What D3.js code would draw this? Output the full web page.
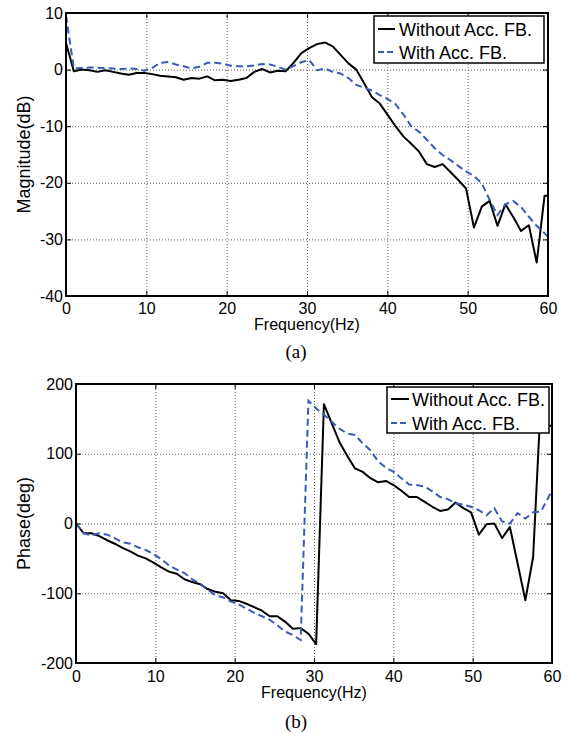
<!DOCTYPE html>
<html>
<head>
<meta charset="utf-8">
<script src="https://cdn.jsdelivr.net/npm/d3@7/dist/d3.min.js"></script>
<style>
  body { margin: 0; background: #ffffff; }
  svg text { font-family: "Liberation Sans", Arial, sans-serif; fill: #000; }
  svg text.caption { font-family: "Liberation Serif", "Times New Roman", serif; }
</style>
</head>
<body>
<svg id="chart" width="568" height="734"></svg>
<script>

/*****************
***** DATA *****
*****************/

// frequency bins (Hz), about 0.977 Hz apart
const freqHz = [0, 0.98, 1.95, 2.93, 3.91, 4.88, 5.86, 6.84, 7.81, 8.79,
    9.77, 10.74, 11.72, 12.70, 13.67, 14.65, 15.63, 16.60, 17.58, 18.55,
    19.53, 20.51, 21.48, 22.46, 23.44, 24.41, 25.39, 26.37, 27.34, 28.32,
    29.30, 30.27, 31.25, 32.23, 33.20, 34.18, 35.16, 36.13, 37.11, 38.09,
    39.06, 40.04, 41.02, 41.99, 42.97, 43.95, 44.92, 45.90, 46.88, 47.85,
    48.83, 49.80, 50.78, 51.76, 52.73, 53.71, 54.69, 55.66, 56.64, 57.62,
    58.59, 59.57, 60.55];

// (a) magnitude, dB
const magWithout = [4.7, -0.3, 0, -0.1, -0.4, -0.1, -0.4, -0.7, -0.9, -0.6,
    -0.6, -0.8, -1.1, -1.2, -1.35, -1.8, -1.5, -1.6, -1.2, -1.9,
    -1.8, -2.0, -1.8, -1.5, -0.4, 0.1, -0.5, -0.2, -0.3, 1.2,
    2.9, 3.8, 4.5, 4.8, 4.1, 2.6, 1.1, 0, -2.4, -4.9,
    -6.0, -8.0, -10.0, -11.8, -13.1, -14.5, -16.7, -17.2, -16.7, -18.1,
    -19.5, -21.0, -27.9, -24.2, -23.2, -27.6, -23.8, -26.0, -28.5, -27.5,
    -34.1, -22.3, -22.3];

const magWith = [9.5, 0.2, 0.3, 0.35, 0.35, 0.3, 0.2, 0.1, 0.2, 0.1,
    -0.2, 0.3, 1.2, 1.35, 0.9, 0.6, 0.2, 0.5, 1.2, 1.2,
    1.05, 0.7, 0.6, 0.6, 0.75, 1.0, 0.9, 0.5, 0, 0.6,
    1.3, 1.7, -0.1, 0.2, -0.4, -0.7, -1.5, -2.7, -3.2, -3.7,
    -4.5, -5.2, -6.1, -7.9, -10.0, -11.0, -12.4, -13.9, -15.1, -16.0,
    -17.0, -18.0, -18.8, -20.1, -23.0, -25.7, -23.8, -23.2, -24.3, -26.0,
    -27.6, -28.9, -30.4];

// (b) phase, deg
const phaseWithout = [0, -14, -14, -18, -24, -29, -35, -40, -46, -50,
    -56, -63, -69, -72, -80, -84, -87, -94, -98, -100,
    -110, -111, -115, -120, -125, -133, -133, -141, -151, -150,
    -158, -173, 171, 144, 117, 97, 79, 74, 65, 59,
    61, 55, 47, 38, 38, 31, 24, 18, 20, 30,
    22, 16, -16, -1, 0, -21, -5, -57, -110, -48,
    175, 140, 140];

const phaseWith = [0, -14, -17, -14, -16, -21, -27, -29, -34, -38,
    -44, -51, -60, -66, -71, -80, -86, -95, -103, -106,
    -112, -116, -122, -128, -133, -138, -146, -155, -160, -167,
    176, 165, 156, 146, 136, 129, 127, 115, 105, 89,
    80, 74, 65, 56, 55, 53, 46, 38, 35, 29,
    27, 24, 19, 12, 22, 3, 0, 15, 7, 16,
    17, 38, 58];

const xTicks = [0, 10, 20, 30, 40, 50, 60];
const magTicks = [-40, -30, -20, -10, 0, 10];
const phaseTicks = [-200, -100, 0, 100, 200];
const legendLabels = ["Without Acc. FB.", "With Acc. FB."];

/**********************
***** BASIC SETUP *****
**********************/

const BLUE = "#3a5cb4";
const GRID = "#606060";
const TICK_LEN = 5;

// plain hyphen minus, like the original plot
const fmt = d => String(d);

const svg = d3.select("#chart");

svg.append("rect")
    .attr("width", 568)
    .attr("height", 734)
    .attr("fill", "#ffffff");

const panels = [
    {
        id: "a", left: 66, top: 13, right: 548, bottom: 296,
        yDomain: [-40, 10], yTicks: magTicks, yTitle: "Magnitude(dB)",
        series: [magWithout, magWith],
        legend: {x: 374, y: 16, w: 170, h: 47, rows: [13, 36], lx0: 4, lx1: 21, tx: 25},
        xLabelPad: 7, xTitleY: 330, caption: "(a)", captionY: 358
    },
    {
        id: "b", left: 76, top: 384, right: 552, bottom: 663,
        yDomain: [-200, 200], yTicks: phaseTicks, yTitle: "Phase(deg)",
        series: [phaseWithout, phaseWith],
        legend: {x: 387, y: 387, w: 162, h: 46, rows: [12, 36], lx0: 4, lx1: 22, tx: 25},
        xLabelPad: 8, xTitleY: 698, caption: "(b)", captionY: 728
    }
];

panels.forEach(drawPanel);

function drawPanel(p) {

    const w = p.right - p.left;
    const h = p.bottom - p.top;

    const x = d3.scaleLinear().domain([0, 60]).range([0, w]);
    const y = d3.scaleLinear().domain(p.yDomain).range([h, 0]);

    const g = svg.append("g")
        .attr("id", "panel-" + p.id)
        .attr("transform", `translate(${p.left}, ${p.top})`);

    /*****************
    ***** GRID *****
    *****************/

    const inner = xTicks.slice(1, -1);
    const innerY = p.yTicks.slice(1, -1);

    g.append("g")
        .attr("class", "grid")
        .attr("transform", `translate(0, ${h})`)
        .call(d3.axisBottom(x).tickValues(inner).tickSize(-h).tickFormat(""))
        .call(a => a.select(".domain").remove());

    g.append("g")
        .attr("class", "grid")
        .call(d3.axisLeft(y).tickValues(innerY).tickSize(-w).tickFormat(""))
        .call(a => a.select(".domain").remove());

    g.selectAll(".grid line")
        .attr("stroke", GRID)
        .attr("stroke-width", 1)
        .attr("stroke-dasharray", "1,2");

    /***********************
    ***** CURVES *****
    ***********************/

    g.append("clipPath")
        .attr("id", "clip-" + p.id)
        .append("rect")
        .attr("width", w)
        .attr("height", h);

    const line = d3.line()
        .x((d, i) => x(freqHz[i]))
        .y(d => y(d));

    const curves = g.append("g").attr("clip-path", `url(#clip-${p.id})`);

    curves.append("path")
        .datum(p.series[0])
        .attr("d", line)
        .attr("fill", "none")
        .attr("stroke", "#000")
        .attr("stroke-width", 2)
        .attr("stroke-linejoin", "round");

    curves.append("path")
        .datum(p.series[1])
        .attr("d", line)
        .attr("fill", "none")
        .attr("stroke", BLUE)
        .attr("stroke-width", 2)
        .attr("stroke-dasharray", "7,4");

    /*********************
    ***** AXES BOX *****
    *********************/

    // inward ticks on all four sides
    g.append("g").attr("class", "ticks")
        .attr("transform", `translate(0, ${h})`)
        .call(d3.axisBottom(x).tickValues(xTicks).tickSize(-TICK_LEN).tickFormat(""));
    g.append("g").attr("class", "ticks")
        .call(d3.axisTop(x).tickValues(xTicks).tickSize(-TICK_LEN).tickFormat(""));
    g.append("g").attr("class", "ticks")
        .call(d3.axisLeft(y).tickValues(p.yTicks).tickSize(-TICK_LEN).tickFormat(""));
    g.append("g").attr("class", "ticks")
        .attr("transform", `translate(${w}, 0)`)
        .call(d3.axisRight(y).tickValues(p.yTicks).tickSize(-TICK_LEN).tickFormat(""));

    g.selectAll(".ticks .domain").remove();
    g.selectAll(".ticks line").attr("stroke", "#000").attr("stroke-width", 1);

    g.append("rect")
        .attr("width", w)
        .attr("height", h)
        .attr("fill", "none")
        .attr("stroke", "#000")
        .attr("stroke-width", 2);

    /************************
    ***** TICK LABELS *****
    ************************/

    const xLab = g.append("g")
        .attr("transform", `translate(0, ${h})`)
        .call(d3.axisBottom(x).tickValues(xTicks).tickSize(0)
            .tickPadding(p.xLabelPad).tickFormat(fmt));

    const yLab = g.append("g")
        .call(d3.axisLeft(y).tickValues(p.yTicks).tickSize(0)
            .tickPadding(3).tickFormat(fmt));

    [xLab, yLab].forEach(a => {
        a.select(".domain").remove();
        a.selectAll("text")
            .attr("font-size", 16)
            .attr("font-family", "Liberation Sans, Arial, sans-serif")
            .attr("fill", "#000");
    });

    /*******************
    ***** TITLES *****
    *******************/

    svg.append("text")
        .attr("x", (p.left + p.right) / 2)
        .attr("y", p.xTitleY)
        .attr("text-anchor", "middle")
        .attr("font-size", 16)
        .text("Frequency(Hz)");

    svg.append("text")
        .attr("transform", `translate(30, ${(p.top + p.bottom) / 2}) rotate(-90)`)
        .attr("text-anchor", "middle")
        .attr("font-size", 18)
        .text(p.yTitle);

    svg.append("text")
        .attr("class", "caption")
        .attr("x", 296)
        .attr("y", p.captionY)
        .attr("text-anchor", "middle")
        .attr("font-size", 19)
        .text(p.caption);

    /*******************
    ***** LEGEND *****
    *******************/

    const L = p.legend;
    const leg = svg.append("g")
        .attr("class", "legend")
        .attr("transform", `translate(${L.x}, ${L.y})`);

    leg.append("rect")
        .attr("width", L.w)
        .attr("height", L.h)
        .attr("fill", "#fff")
        .attr("stroke", "#000")
        .attr("stroke-width", 1.5);

    legendLabels.forEach((label, i) => {
        leg.append("line")
            .attr("x1", L.lx0)
            .attr("x2", L.lx1)
            .attr("y1", L.rows[i])
            .attr("y2", L.rows[i])
            .attr("stroke", i === 0 ? "#000" : BLUE)
            .attr("stroke-width", 2)
            .attr("stroke-dasharray", i === 0 ? null : "6,3");

        leg.append("text")
            .attr("x", L.tx)
            .attr("y", L.rows[i] + 6.5)
            .attr("font-size", 18)
            .text(label);
    });
}

</script>
</body>
</html>
